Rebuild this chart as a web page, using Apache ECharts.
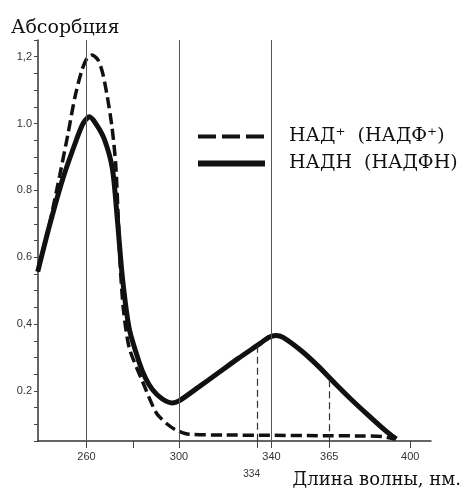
<!DOCTYPE html>
<html>
<head>
<meta charset="utf-8">
<script src="https://cdn.jsdelivr.net/npm/echarts@6/dist/echarts.min.js"></script>
<style>html,body{margin:0;padding:0;background:#fff;}#c{width:464px;height:489px;}</style>
</head>
<body>
<div id="c"></div>
<script>
// ---- data ----
const seriesNames = ['НАД\u207A  (НАДФ\u207A)', 'НАДН  (НАДФН)'];
// NAD+ (dashed) : [wavelength nm, absorbance]
const nadOx = [
  [238.9,0.557],[244,0.70],[248.4,0.845],[252,0.97],[255,1.08],[258,1.16],[260.3,1.197],[262.3,1.205],
  [265,1.19],[267,1.15],[269,1.08],[271,0.99],[272.6,0.88],[273.7,0.72],[274.6,0.57],[276,0.44],
  [278.5,0.328],[284.1,0.23],[290.1,0.135],[295,0.1],[298.7,0.083],[304.3,0.07],
  [320,0.068],[340,0.067],[360,0.066],[380,0.065],[388,0.063],[393,0.056]
];
// NADH (solid)
const nadRed = [
  [238.9,0.557],[244,0.695],[249.7,0.834],[255.7,0.953],[258.5,1.0],[261.2,1.02],[264,1.0],
  [267.7,0.953],[271.2,0.864],[273.3,0.715],[275.5,0.54],[278.5,0.385],[282.8,0.285],
  [285.5,0.238],[288.4,0.205],[292.5,0.177],[297,0.164],[300,0.17],[308.6,0.212],[317.2,0.255],
  [325.8,0.298],[335.3,0.343],[338.7,0.36],[342,0.366],[345,0.36],[352.9,0.32],[360.2,0.274],
  [367.5,0.222],[374.4,0.175],[381.7,0.128],[387.3,0.093],[391.6,0.068],[394,0.056]
];
const guideLines = [260, 300, 340];            // full-height vertical lines
const dropLines = [[334, 0.335], [365, 0.232]];  // dashed drops to the curve
const xTickValues = [260, 280, 300, 334, 340, 365, 400];
const xLabelValues = [260, 300, 334, 340, 365, 400];
const yLabelValues = [0.2, 0.4, 0.6, 0.8, 1.0, 1.2];
const yLabelTexts = ['0.2', '0,4', '0.6', '0.8', '1.0', '1,2'];
const yTitle = 'Абсорбция';
const xTitle = 'Длина волны, нм.';

const X_MIN = 239, X_MAX = 409, Y_MIN = 0.05, Y_MAX = 1.25;

const chart = echarts.init(document.getElementById('c'), null, {renderer: 'canvas'});

const markData = [];
guideLines.forEach(v => markData.push([{coord: [v, Y_MAX]}, {coord: [v, Y_MIN]}]));
dropLines.forEach(d => markData.push([
  {coord: [d[0], d[1]], lineStyle: {type: [7, 4], color: '#333', width: 1.2}},
  {coord: [d[0], Y_MIN]}
]));

const hidden = {color: 'rgba(0,0,0,0)', borderWidth: 0, borderColor: 'rgba(0,0,0,0)'};

chart.setOption({
  animation: false,
  backgroundColor: '#fff',
  title: {
    text: yTitle, left: 11, top: 19, padding: 0,
    textStyle: {fontFamily: 'DejaVu Serif', fontSize: 19, fontWeight: 'normal', color: '#111'}
  },
  legend: {
    orient: 'vertical', left: 195, top: 127, padding: 0,
    itemWidth: 67, itemHeight: 16, itemGap: 8,
    textStyle: {fontFamily: 'DejaVu Serif', fontSize: 19, color: '#111', padding: [0, 0, 0, 19]},
    data: [
      {name: seriesNames[0], itemStyle: hidden, lineStyle: {color: '#111', width: 4, type: [18, 6]}},
      {name: seriesNames[1], itemStyle: hidden, lineStyle: {color: '#111', width: 6, type: 'solid'}}
    ]
  },
  grid: {left: 38, right: 31, top: 40, bottom: 46, containLabel: false},
  xAxis: {
    type: 'value', min: X_MIN, max: X_MAX,
    name: xTitle, nameLocation: 'end', nameGap: 30,
    nameTextStyle: {fontFamily: 'DejaVu Serif', fontSize: 18, color: '#111', align: 'right', verticalAlign: 'top', padding: [30, 0, 0, 0]},
    axisLine: {lineStyle: {color: '#333', width: 1.5}},
    axisTick: {customValues: xTickValues, length: 7, lineStyle: {color: '#444'}},
    axisLabel: {
      customValues: xLabelValues, margin: 10, fontFamily: 'Liberation Sans', fontSize: 11, color: '#333',
      formatter: v => (Math.abs(v - 334) < 0.01 ? '{s|' + v + '}' : String(v)),
      rich: {s: {fontFamily: 'Liberation Sans', fontSize: 10, color: '#333', padding: [18, 12, 0, 0]}}
    },
    splitLine: {show: false}
  },
  yAxis: {
    type: 'value', min: Y_MIN, max: Y_MAX, interval: 0.05,
    axisLine: {show: true, lineStyle: {color: '#333', width: 1.5}},
    axisTick: {show: true, length: 4, lineStyle: {color: '#444'}},
    axisLabel: {
      margin: 6, fontFamily: 'Liberation Sans', fontSize: 11, color: '#333',
      formatter: v => {
        const i = yLabelValues.findIndex(t => Math.abs(t - v) < 1e-6);
        return i >= 0 ? yLabelTexts[i] : '';
      }
    },
    splitLine: {show: false}
  },
  series: [
    {
      name: seriesNames[0], type: 'line', data: nadOx, smooth: 0.25, symbol: 'none',
      lineStyle: {color: '#111', width: 3.5, type: [11, 5]}, itemStyle: {color: '#111'}, z: 3
    },
    {
      name: seriesNames[1], type: 'line', data: nadRed, smooth: 0.25, symbol: 'none',
      lineStyle: {color: '#111', width: 5}, itemStyle: {color: '#111'}, z: 4,
      markLine: {
        silent: true, symbol: ['none', 'none'], label: {show: false},
        lineStyle: {color: '#555', width: 1, type: 'solid'},
        data: markData
      }
    }
  ]
});
</script>
</body>
</html>
